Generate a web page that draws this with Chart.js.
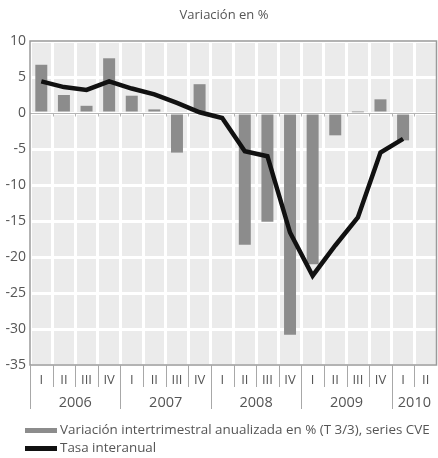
<!DOCTYPE html>
<html>
<head>
<meta charset="utf-8">
<script src="https://cdn.jsdelivr.net/npm/chart.js@4"></script>
<style>
  html, body { margin: 0; padding: 0; background: #ffffff; }
  #wrap { width: 438px; height: 458px; position: relative; }
</style>
</head>
<body>
<div id="wrap"><canvas id="c" width="438" height="458"></canvas></div>
<script>
// Quarters (2006 Q1 – 2010 Q2)
const quarters = ['I','II','III','IV','I','II','III','IV','I','II','III','IV','I','II','III','IV','I','II'];
const years = ['2006','2007','2008','2009','2010'];
const quartersPerYear = [4, 4, 4, 4, 2];

// Annualised quarter-on-quarter change (%), seasonally and calendar adjusted
const quarterlyRate = [6.7, 2.5, 1.0, 7.6, 2.4, 0.5, -5.5, 4.0, 0.2, -18.3, -15.1, -30.8, -21.0, -3.1, 0.1, 1.9, -3.8, null];
// Year-on-year rate (%)
const annualRate = [4.4, 3.6, 3.2, 4.4, 3.4, 2.6, 1.4, 0.1, -0.7, -5.3, -6.0, -16.6, -22.6, -18.4, -14.5, -5.5, -3.6, null];

const yTicks = { min: -35, max: 10, step: 5 };

const titleText = 'Variación en %';
const legendItems = [
  { label: 'Variación intertrimestral anualizada en % (T 3/3), series CVE', color: '#8c8c8c' },
  { label: 'Tasa interanual', color: '#111111' }
];

const FONT = '"Open Sans", "Noto Sans", sans-serif';
const TEXT = '#555555';
const FRAME = '#9a9a9a';

const decor = {
  id: 'decor',
  beforeDraw(chart) {
    const { ctx, chartArea: a } = chart;
    ctx.save();
    ctx.fillStyle = '#ebebeb';
    ctx.fillRect(a.left, a.top, a.right - a.left, a.bottom - a.top);
    ctx.restore();
  },
  beforeDatasetsDraw(chart) {
    // baseline at zero with small boundary ticks
    const { ctx, chartArea: a, scales } = chart;
    const y0 = Math.round(scales.y.getPixelForValue(0)) + 0.5;
    ctx.save();
    ctx.strokeStyle = '#b5b5b5';
    ctx.lineWidth = 1;
    ctx.beginPath();
    ctx.moveTo(a.left, y0); ctx.lineTo(a.right, y0);
    const step = (a.right - a.left) / quarters.length;
    for (let i = 1; i < quarters.length; i++) {
      const x = Math.round(a.left + step * i) + 0.5;
      ctx.moveTo(x, y0); ctx.lineTo(x, y0 + 3);
    }
    ctx.stroke();
    ctx.restore();
  },
  afterDraw(chart) {
    const { ctx, chartArea: a, scales } = chart;
    const x = scales.x;
    ctx.save();

    // frame
    ctx.strokeStyle = FRAME;
    ctx.lineWidth = 1.5;
    ctx.strokeRect(a.left, a.top, a.right - a.left - 0.5, a.bottom - a.top);

    // category separators below the axis
    const step = (a.right - a.left) / quarters.length;
    ctx.lineWidth = 1;
    ctx.strokeStyle = '#a8a8a8';
    let idx = 0;
    const yearBounds = new Set([0]);
    quartersPerYear.forEach(n => { idx += n; yearBounds.add(idx); });
    ctx.beginPath();
    for (let i = 0; i < quarters.length; i++) {
      const px = Math.round(a.left + step * i) + 0.5;
      const len = yearBounds.has(i) ? 44 : 22;
      ctx.moveTo(px, a.bottom); ctx.lineTo(px, a.bottom + len);
    }
    ctx.stroke();

    // year labels
    ctx.fillStyle = TEXT;
    ctx.font = '14.5px ' + FONT;
    ctx.textAlign = 'center';
    ctx.textBaseline = 'middle';
    let start = 0;
    years.forEach((yr, k) => {
      const n = quartersPerYear[k];
      const cx = (x.getPixelForValue(start) + x.getPixelForValue(start + n - 1)) / 2;
      ctx.fillText(yr, cx, a.bottom + 38);
      start += n;
    });

    // title
    ctx.font = '13px ' + FONT;
    ctx.fillText(titleText, 224, 15);

    // legend
    ctx.textAlign = 'left';
    ctx.font = '13.4px ' + FONT;
    legendItems.forEach((it, k) => {
      const cy = 430 + k * 18;
      ctx.fillStyle = it.color;
      ctx.fillRect(25, cy - 2, 32, 5);
      ctx.fillStyle = TEXT;
      ctx.fillText(it.label, 60, cy);
    });
    ctx.restore();
  }
};

new Chart(document.getElementById('c'), {
  type: 'bar',
  data: {
    labels: quarters,
    datasets: [
      {
        type: 'line',
        label: legendItems[1].label,
        data: annualRate,
        borderColor: '#111111',
        borderWidth: 4.5,
        pointRadius: 0,
        tension: 0,
        fill: false,
        order: 0
      },
      {
        type: 'bar',
        label: legendItems[0].label,
        data: quarterlyRate,
        backgroundColor: '#8c8c8c',
        categoryPercentage: 1,
        barPercentage: 0.53,
        order: 1
      }
    ]
  },
  options: {
    responsive: false,
    animation: false,
    devicePixelRatio: 1,
    layout: { padding: { top: 41, right: 1, left: 0, bottom: 0 } },
    plugins: { legend: { display: false }, title: { display: false }, tooltip: { enabled: false } },
    scales: {
      x: {
        offset: true,
        grid: { color: '#ffffff', lineWidth: 3, offset: true, drawTicks: false },
        border: { display: false },
        ticks: { color: TEXT, font: { family: FONT, size: 13 }, padding: 7, maxRotation: 0, autoSkip: false },
        afterFit(s) { s.height = 93; }
      },
      y: {
        min: yTicks.min,
        max: yTicks.max,
        grid: { color: '#ffffff', lineWidth: 3, drawTicks: false },
        border: { display: false },
        ticks: { stepSize: yTicks.step, color: TEXT, font: { family: FONT, size: 14 }, padding: 4 },
        afterFit(s) { s.width = 30; }
      }
    }
  },
  plugins: [decor]
});
</script>
</body>
</html>
